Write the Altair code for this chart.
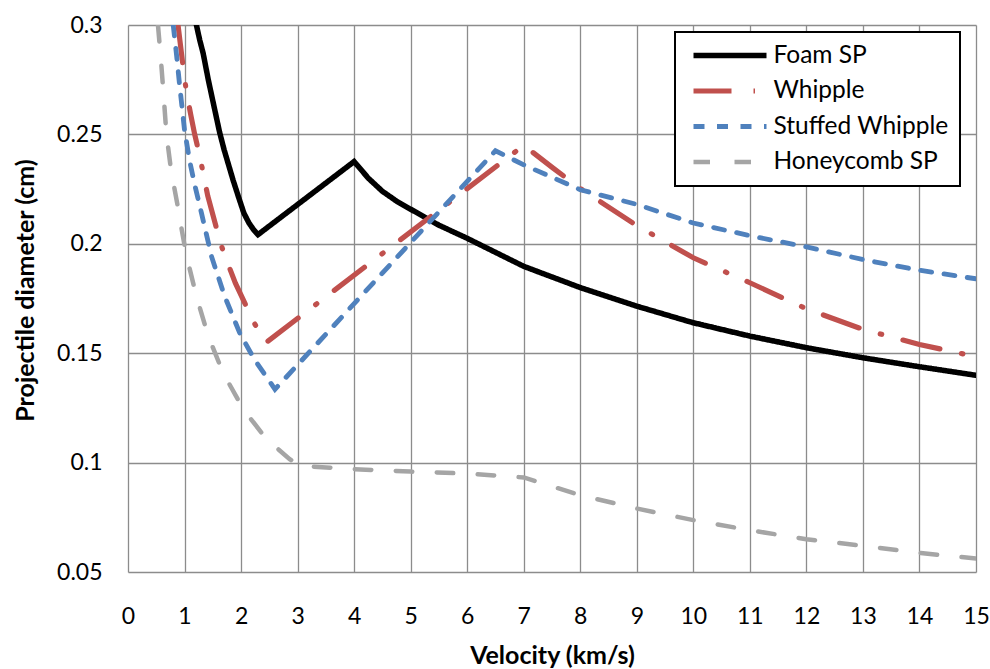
import altair as alt
import pandas as pd

series_names = ["Foam SP", "Whipple", "Stuffed Whipple", "Honeycomb SP"]
series_colors = ["#000000", "#c0504d", "#4f81bd", "#a5a5a5"]

x_ticks = list(range(0, 16))
y_ticks = [0.05, 0.1, 0.15, 0.2, 0.25, 0.3]

foam_v = [1.21, 1.27, 1.33, 1.42, 1.52, 1.62, 1.70, 1.78, 1.86, 1.96, 2.05, 2.14, 2.22, 2.3,
          4.0, 4.25, 4.5, 4.75, 5.0, 5.5, 6.0, 7.0, 8.0, 9.0, 10.0, 11.0, 12.0, 13.0, 14.0, 15.0]
foam_d = [0.300, 0.293, 0.287, 0.275, 0.263, 0.251, 0.243, 0.236, 0.229, 0.221, 0.214, 0.2095,
          0.2065, 0.2042,
          0.2376, 0.2300, 0.2240, 0.2195, 0.2158, 0.2085, 0.2025, 0.1897, 0.1800, 0.1715, 0.1639,
          0.1578, 0.1525, 0.1479, 0.1438, 0.1399]

whipple_v = [0.885, 0.96, 1.03, 1.11, 1.18, 1.27, 1.41, 1.55, 1.64, 1.75, 1.9, 2.1, 2.25, 2.45,
             7.0, 7.52, 8.0, 9.0, 10.0, 11.0, 12.0, 13.0, 14.0, 15.0]
whipple_d = [0.300, 0.284, 0.270, 0.259, 0.250, 0.240, 0.222, 0.2086, 0.200, 0.192, 0.182,
             0.171, 0.163, 0.155,
             0.245, 0.2346, 0.2253, 0.2083, 0.1936, 0.1822, 0.1703, 0.1609, 0.1540, 0.1484]

stuffed_v = [0.80, 0.86, 0.915, 1.0, 1.09, 1.18, 1.30, 1.48, 1.71, 1.98, 2.24, 2.60,
             6.5, 7.0, 8.0, 9.0, 10.0, 11.0, 12.0, 13.0, 14.0, 15.0]
stuffed_d = [0.300, 0.286, 0.272, 0.252, 0.238, 0.227, 0.214, 0.194, 0.176, 0.159, 0.147, 0.1335,
             0.2425, 0.2361, 0.2247, 0.2180, 0.2095, 0.2037, 0.1986, 0.1928, 0.1879, 0.1840]

honey_v = [0.53, 0.58, 0.63, 0.68, 0.75, 0.82, 0.885, 0.95, 1.03, 1.21, 1.42, 1.68, 2.04, 2.45,
           2.86, 3.04, 4.0, 5.0, 6.0, 7.0, 8.0, 9.0, 10.0, 11.0, 12.0, 13.0, 14.0, 15.0]
honey_d = [0.300, 0.285, 0.268, 0.250, 0.236, 0.2255, 0.2165, 0.2065, 0.195, 0.176, 0.1578,
           0.1411, 0.1244, 0.1107, 0.1016, 0.0985, 0.0970, 0.0959, 0.0950, 0.0932, 0.0851,
           0.0790, 0.0737, 0.0691, 0.0650, 0.0620, 0.0587, 0.0562]

rows = []
for name, xs, ys in [("Foam SP", foam_v, foam_d), ("Whipple", whipple_v, whipple_d),
                     ("Stuffed Whipple", stuffed_v, stuffed_d), ("Honeycomb SP", honey_v, honey_d)]:
    for i, (xv, yv) in enumerate(zip(xs, ys)):
        rows.append({"series": name, "velocity": xv, "diameter": yv, "idx": i})
df = pd.DataFrame(rows)

dash_range = [[1, 0], [38, 22, 1.5, 22], [11, 12.5], [16.5, 24.5]]
width_range = [5.5, 4.5, 4.5, 4.5]

FONT = "Lato"
GRID = "#8c8c8c"

chart = alt.Chart(df).mark_line(clip=True, strokeCap="round").encode(
    x=alt.X("velocity:Q",
            scale=alt.Scale(domain=[0, 15], nice=False, zero=False),
            axis=alt.Axis(values=x_ticks, title="Velocity (km/s)", format="d",
                          labelPadding=33, labelFlush=False,
                          titleY=91, titleBaseline="alphabetic")),
    y=alt.Y("diameter:Q",
            scale=alt.Scale(domain=[0.05, 0.3], nice=False, zero=False),
            axis=alt.Axis(values=y_ticks, title="Projectile diameter (cm)", format="~g",
                          labelPadding=26, labelFlush=False,
                          titleX=-95, titleY=265, titleBaseline="alphabetic")),
    color=alt.Color("series:N", scale=alt.Scale(domain=series_names, range=series_colors),
                    legend=alt.Legend(title=None)),
    strokeDash=alt.StrokeDash("series:N", scale=alt.Scale(domain=series_names, range=dash_range),
                              legend=alt.Legend(title=None)),
    strokeWidth=alt.StrokeWidth("series:N", scale=alt.Scale(domain=series_names, range=width_range),
                                legend=None),
    order="idx:Q",
).properties(
    width=848, height=547,
    autosize=alt.AutoSizeParams(type="none"),
    padding={"left": 128, "top": 25, "right": 14, "bottom": 97},
).configure_view(
    stroke=None
).configure_axis(
    grid=True, gridColor=GRID, gridWidth=1.3, gridOpacity=1,
    domain=False, ticks=False, tickSize=0,
    labelFont=FONT, labelFontSize=23, labelColor="#000000",
    titleFont=FONT, titleFontSize=25, titleFontWeight="bold", titleColor="#000000",
).configure_legend(
    orient="none", legendX=547, legendY=7,
    fillColor="#ffffff", strokeColor="#000000", strokeWidth=2,
    padding=11, symbolType="stroke", symbolSize=5329, symbolStrokeWidth=4.5,
    symbolOffset=4.5, labelOffset=4, clipHeight=25, rowPadding=9.5, labelLimit=400,
    labelFont=FONT, labelFontSize=24.5, labelColor="#000000",
)

chart.save("out.html", embed_options={"renderer": "svg", "actions": False})
